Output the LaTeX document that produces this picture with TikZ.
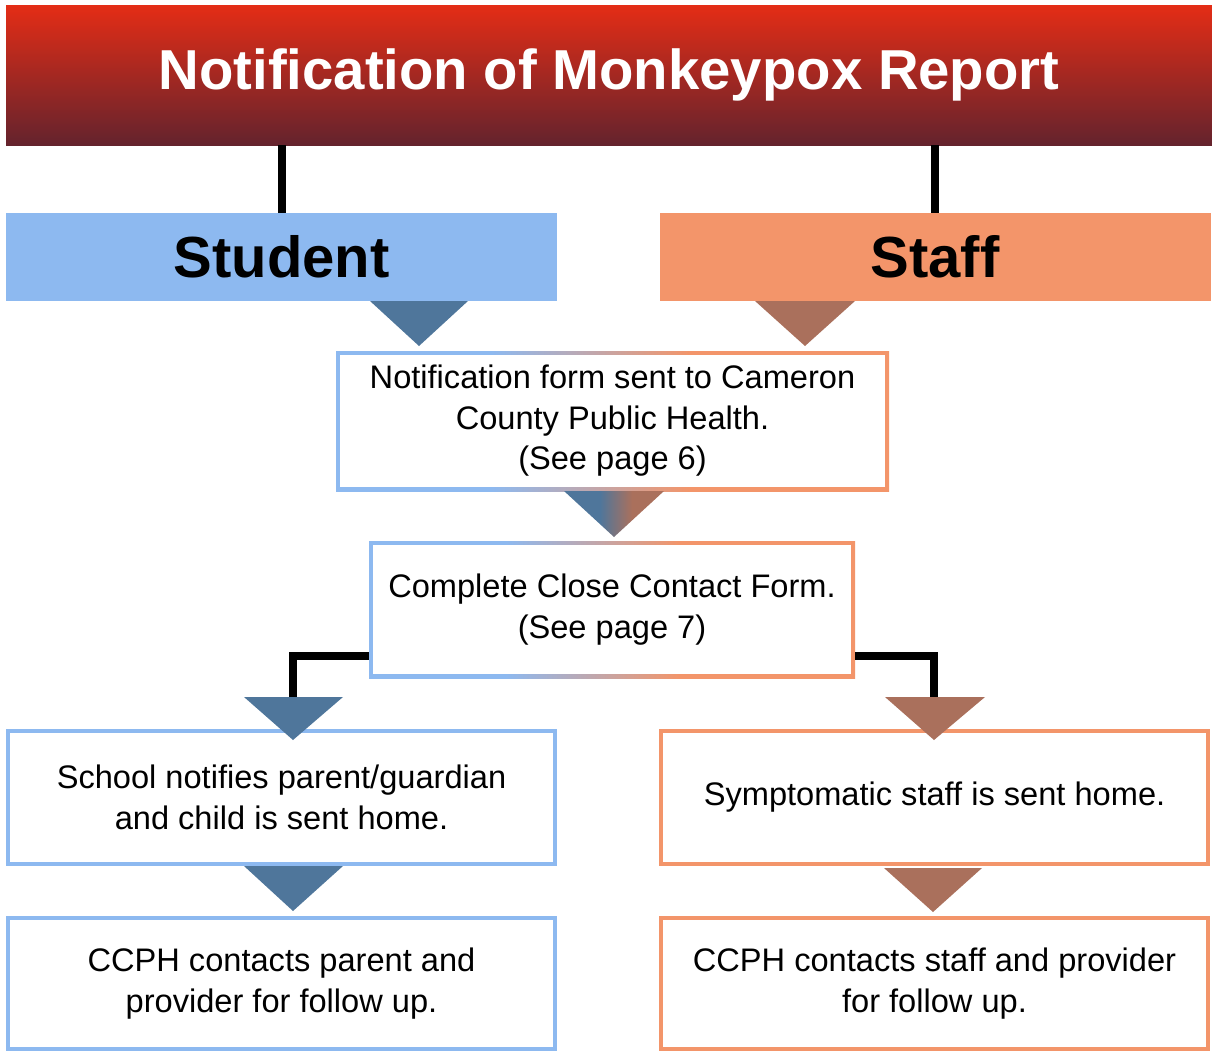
\documentclass[tikz,border=0pt]{standalone}
\usepackage{fontspec}
\setmainfont{Liberation Sans}
\definecolor{sblue}{RGB}{141,185,240}
\definecolor{sorange}{RGB}{243,149,106}
\definecolor{dblue}{RGB}{79,118,155}
\definecolor{dbrown}{RGB}{170,112,92}
\definecolor{htop}{RGB}{228,45,22}
\definecolor{hbot}{RGB}{100,35,45}
\pgfdeclarehorizontalshading{mixborder}{100bp}{color(0bp)=(sblue); color(39bp)=(sblue); color(57bp)=(sorange); color(100bp)=(sorange)}
\pgfdeclarehorizontalshading{mixtri}{100bp}{color(0bp)=(dblue); color(43bp)=(dblue); color(59bp)=(dbrown); color(100bp)=(dbrown)}
\tikzset{head/.style={top color=htop, bottom color=hbot, text=white, inner sep=0pt,
                      minimum width=1206pt, minimum height=140pt,
                      font=\fontsize{56.3}{60}\selectfont\bfseries},
         catbox/.style={inner sep=0pt, minimum width=551pt, minimum height=88pt,
                        font=\fontsize{58}{60}\selectfont\bfseries},
         stepbox/.style={line width=4pt, fill=white, inner sep=0pt, align=center,
                         minimum width=547pt, minimum height=133pt,
                         font=\fontsize{32.6}{40.5}\selectfont},
         mixbox/.style={shade, shading=mixborder, inner sep=0pt, align=center,
                        font=\fontsize{32.6}{40.5}\selectfont,
                        path picture={\fill[white]
                          ([shift={(4pt,-4pt)}]path picture bounding box.north west)
                          rectangle ([shift={(-4pt,4pt)}]path picture bounding box.south east);}},
         conn/.style={line width=8pt, color=black}}

\begin{document}
\begin{tikzpicture}[x=1pt,y=-1pt]
\useasboundingbox (0,0) rectangle (1212,1053);
% Title bar:
\node[head] (title) at (609,75) {Notification of Monkeypox Report};
% Student and staff:
\node[catbox, fill=sblue] (student) at (281.5,257) {Student};
\node[catbox, fill=sorange] (staff) at (935,257) {Staff};
\draw[conn] (title.south -| student.north) -- (student.north);
\draw[conn] (title.south -| staff.north) -- (staff.north);

% Shared steps:
\node[mixbox, minimum width=553pt, minimum height=140pt] (notify) at (612.5,421)
     {Notification form sent to Cameron\\County Public Health.\\(See page 6)};
\node[mixbox, minimum width=486pt, minimum height=137pt] (closeform) at (612,609.5)
     {Complete Close Contact Form.\\(See page 7)};

% Split again:
\coordinate (tipL) at (293,697);
\coordinate (tipR) at (934,697);
\draw[conn] ([yshift=-46.5pt]closeform.west) -| (tipL);
\draw[conn] ([yshift=-46.5pt]closeform.east) -| (tipR);

% Student side:
\node[stepbox, draw=sblue] (sendhome) at (281.5,797.5)
     {School notifies parent/guardian\\and child is sent home.};
\node[stepbox, draw=sblue, minimum height=131pt] (ccphparent) at (281.5,983.5)
     {CCPH contacts parent and\\provider for follow up.};
% Staff side:
\node[stepbox, draw=sorange] (staffhome) at (934.5,797.5)
     {Symptomatic staff is sent home.};
\node[stepbox, draw=sorange, minimum height=131pt] (ccphstaff) at (934.5,983.5)
     {CCPH contacts staff and provider\\for follow up.};

% Arrow heads:
\fill[dblue] (370,301) -- (468,301) -- (419,346) -- cycle; % Under Student
\fill[dbrown] (755,301) -- (855,301) -- (805,346) -- cycle; % Under Staff
\shade[shading=mixtri] (564,491) -- (664,491) -- (614,537) -- cycle;
\fill[dblue] (244,697) -- (343,697) -- (293,740) -- cycle;
\fill[dbrown] (885,697) -- (985,697) -- (934,740) -- cycle;
\fill[dblue] (244,866) -- (343,866) -- (293,911) -- cycle;
\fill[dbrown] (884,868) -- (982,868) -- (933,912) -- cycle;
\end{tikzpicture}
\end{document}
